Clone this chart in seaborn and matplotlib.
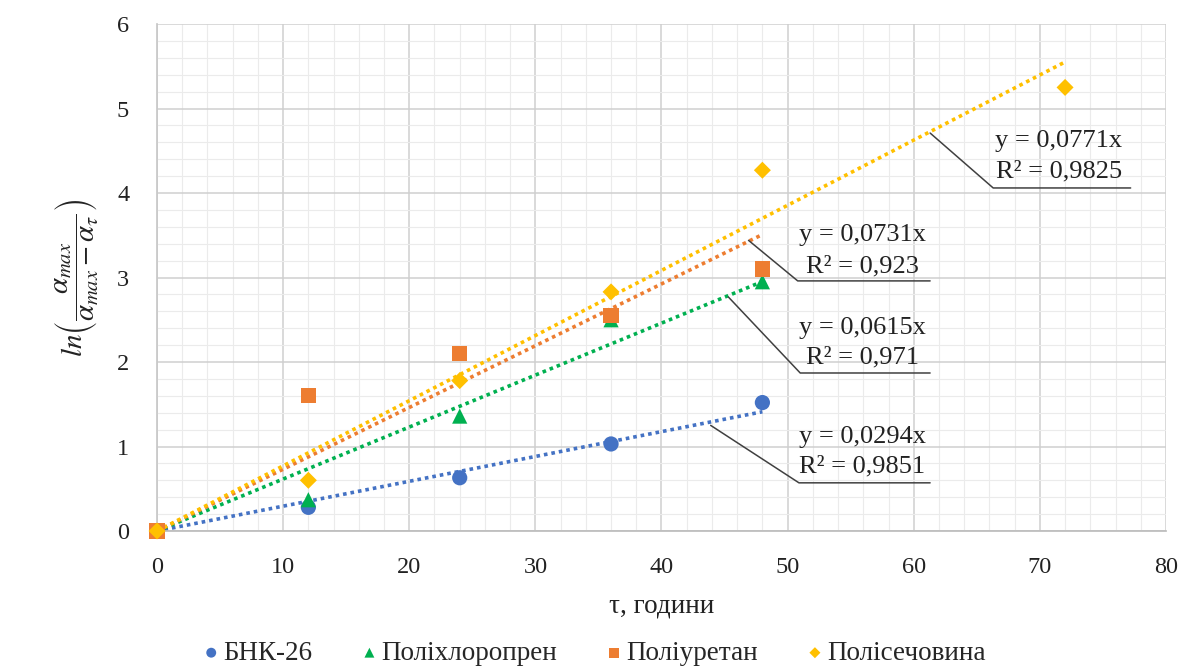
import numpy as np
import pandas as pd
import matplotlib
matplotlib.use("Agg")
import matplotlib.pyplot as plt
from matplotlib.ticker import MultipleLocator
import seaborn as sns

# Measured series: time in hours vs. ln(a_max / (a_max - a_tau))
series_names = ["БНК-26", "Поліхлоропрен", "Поліуретан", "Полісечовина"]
t_bnk = [0, 12, 24, 36, 48]
y_bnk = [0.0, 0.28, 0.63, 1.03, 1.52]
t_pchl = [0, 12, 24, 36, 48]
y_pchl = [0.0, 0.37, 1.36, 2.50, 2.95]
t_pur = [0, 12, 24, 36, 48]
y_pur = [0.0, 1.60, 2.10, 2.55, 3.10]
t_psch = [0, 12, 24, 36, 48, 72]
y_psch = [0.0, 0.60, 1.78, 2.83, 4.27, 5.25]

# Linear trends through the origin (slope and R²)
slopes = [0.0294, 0.0615, 0.0731, 0.0771]
r2_values = ["0,9851", "0,971", "0,923", "0,9825"]

x_ticks = [0, 10, 20, 30, 40, 50, 60, 70, 80]
y_ticks = [0, 1, 2, 3, 4, 5, 6]

colors = ["#4472C4", "#00B050", "#ED7D31", "#FFC000"]
markers = ["o", "^", "s", "D"]
marker_sizes = [120, 120, 120, 75]

times = [t_bnk, t_pchl, t_pur, t_psch]
values = [y_bnk, y_pchl, y_pur, y_psch]

df = pd.concat(
    [pd.DataFrame({"t": t, "y": v, "material": name})
     for name, t, v in zip(series_names, times, values)],
    ignore_index=True,
)

sns.set_theme(style="white")
plt.rcParams["font.family"] = ["Liberation Serif", "DejaVu Serif"]
plt.rcParams["mathtext.fontset"] = "stix"

fig = plt.figure(figsize=(11.86, 6.68), dpi=100)
ax = fig.add_axes([0.1324, 0.2051, 0.8507, 0.7589])

# Grid: major every 10 h / 1 unit, minor subdivisions
ax.set_xlim(0, 80)
ax.set_ylim(0, 6)
ax.xaxis.set_major_locator(MultipleLocator(10))
ax.yaxis.set_major_locator(MultipleLocator(1))
ax.xaxis.set_minor_locator(MultipleLocator(2))
ax.yaxis.set_minor_locator(MultipleLocator(0.2))
ax.grid(which="major", color="#cfcfcf", linewidth=1.1)
ax.grid(which="minor", color="#ebebeb", linewidth=0.8)
ax.set_axisbelow(True)
for side in ["top", "right"]:
    ax.spines[side].set_visible(False)
ax.spines["left"].set_color("#c8c8c8")
ax.spines["bottom"].set_color("#bdbdbd")

# Dotted trend lines
for name, t, k, c in zip(series_names, times, slopes, colors):
    xs = np.array([0, max(t)])
    sns.lineplot(x=xs, y=k * xs, ax=ax, color=c, linewidth=2.6,
                 linestyle=(0, (1, 1.1)), legend=False, zorder=2)

# Data markers
for name, c, m, s in zip(series_names, colors, markers, marker_sizes):
    sub = df[df["material"] == name]
    sns.scatterplot(data=sub, x="t", y="y", ax=ax, color=c, marker=m, s=s,
                    edgecolor="none", label=name, zorder=3, clip_on=False)

# Equation labels with leader lines
label_specs = [
    # start on trend, corner, underline end, text x, text y (two lines)
    ((43.9, 1.25), (50.9, 0.57), 61.3, 55.9, (1.11, 0.76)),
    ((45.3, 2.77), (51.0, 1.87), 61.3, 55.9, (2.40, 2.05)),
    ((46.9, 3.44), (50.8, 2.96), 61.3, 55.9, (3.50, 3.13)),
    ((61.3, 4.71), (66.3, 4.06), 77.2, 71.5, (4.61, 4.25)),
]
for (start, corner, end_x, tx, ty), k, r2 in zip(label_specs, slopes, r2_values):
    ax.plot([start[0], corner[0], end_x], [start[1], corner[1], corner[1]],
            color="#404040", linewidth=1.1, zorder=4)
    eq = f"y = {k:.4f}x".replace(".", ",")
    ax.text(tx, ty[0], eq, ha="center", va="center", fontsize=19,
            color="#222222", zorder=5)
    ax.text(tx, ty[1], f"R² = {r2}", ha="center", va="center", fontsize=19,
            color="#222222", zorder=5)

ax.set_xticks(x_ticks)
ax.set_yticks(y_ticks)
ax.tick_params(axis="x", which="both", length=0, labelsize=17.5,
               labelcolor="#222222", pad=19)
ax.tick_params(axis="y", which="both", length=0, labelsize=17.5,
               labelcolor="#222222", pad=20)

ax.set_xlabel("τ, години", fontsize=19.5, color="#222222", labelpad=11)
ax.set_ylabel(r"$ln\left(\dfrac{\alpha_{max}}{\alpha_{max}-\alpha_{\tau}}\right)$",
              fontsize=21, color="#222222", labelpad=12)

sns.move_legend(ax, "center", bbox_to_anchor=(0.5, 0.022),
                bbox_transform=fig.transFigure, ncol=4,
                frameon=False, title=None, fontsize=19.5, handletextpad=0.05,
                handlelength=0.8, columnspacing=1.7, markerscale=0.65)

fig.savefig("out.png", dpi=100)
